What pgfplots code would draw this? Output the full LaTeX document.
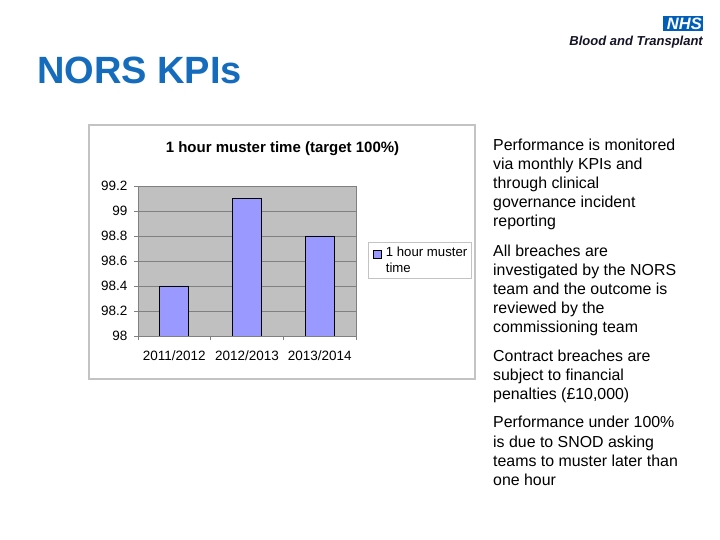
\documentclass[border=0pt]{standalone}
\usepackage{pgfplots}
\pgfplotsset{compat=1.18}
\usepackage{fontspec}
\setmainfont{Liberation Sans}
\definecolor{slideblue}{RGB}{22,108,188}
\definecolor{nhsblue}{RGB}{0,94,184}
\definecolor{plotgray}{RGB}{192,192,192}
\definecolor{gridgray}{RGB}{128,128,128}
\definecolor{barblue}{RGB}{153,153,255}
\definecolor{framegray}{RGB}{195,195,195}
\definecolor{logotext}{RGB}{20,20,40}
\begin{document}
\begin{tikzpicture}
\useasboundingbox (0,0) rectangle (720bp,540bp);
\fill[white] (0,0) rectangle (720bp,540bp);
\begin{scope}[x=1bp,y=-1bp,shift={(0,540bp)}]
\draw[framegray, line width=1.5bp, fill=white] (89,125) rectangle (475,379);
\node[anchor=base west, inner sep=0, font=\fontsize{38bp}{42bp}\selectfont\bfseries, text=slideblue] at (37,83.3) {NORS KPIs};
\fill[nhsblue] (663,16) rectangle (703,31);
\node[anchor=base east, inner sep=0, text=white, font=\fontsize{16.5bp}{16bp}\selectfont\bfseries\itshape] at (702,29.3) {NHS};
\node[anchor=base east, inner sep=0, text=logotext, font=\fontsize{13bp}{13bp}\selectfont\bfseries\itshape] at (703,46) {Blood and Transplant};
\foreach \yy/\tt in {150.7/{Performance is monitored}, 170/{via monthly KPIs and}, 189/{through clinical}, 207.7/{governance incident}, 226.7/{reporting}, 256.7/{All breaches are}, 275.7/{investigated by the NORS}, 295/{team and the outcome is}, 314/{reviewed by the}, 333/{commissioning team}, 361.7/{Contract breaches are}, 380.7/{subject to financial}, 400/{penalties (£10,000)}, 427.7/{Performance under 100\%}, 447.3/{is due to SNOD asking}, 466.7/{teams to muster later than}, 485.7/{one hour}}
  \node[anchor=base west, inner sep=0, font=\fontsize{15.9bp}{18bp}\selectfont] at (493,\yy) {\tt};
\end{scope}
\begin{axis}[
  at={(138bp,204bp)}, anchor=south west, scale only axis,
  width=218bp, height=150bp,
  xmin=-0.5, xmax=2.5, ymin=98, ymax=99.2,
  xtick={-0.5,0.5,1.5,2.5}, xticklabels={},
  extra x ticks={0,1,2},
  extra x tick labels={2011/2012,2012/2013,2013/2014},
  extra x tick style={major tick length=0pt, grid=none,
    xticklabel style={yshift=-11bp}},
  ytick={98,98.2,98.4,98.6,98.8,99,99.2},
  yticklabels={98,98.2,98.4,98.6,98.8,99,99.2},
  xtick pos=bottom, ytick pos=left,
  tick align=outside, major tick length=4bp,
  ymajorgrids, grid style={gridgray, line width=0.8bp},
  axis line style={gridgray, line width=0.8bp},
  tick style={gridgray, line width=0.8bp},
  axis background/.style={fill=plotgray},
  ticklabel style={font=\fontsize{13.5bp}{15bp}\selectfont},
  yticklabel style={xshift=-3bp},
  /pgf/number format/assume math mode=true,
  title={\textbf{1 hour muster time (target 100\%)}},
  title style={at={(0.663,1.184)}, anchor=base, inner sep=0pt, font=\fontsize{15bp}{18bp}\selectfont},
  ybar, bar width=29bp,
  legend style={at={(1.055,0.503)}, anchor=west, draw=framegray, line width=0.8bp, fill=white,
    font=\fontsize{13.2bp}{16.3bp}\selectfont, inner xsep=2.5bp, inner ysep=2.5bp,
    nodes={align=left}},
  legend cell align=left,
  legend image code/.code={\path[draw=none,fill=none] (0bp,6bp) -- (13bp,6bp);\draw[#1, line width=0.6bp] (2bp,2bp) rectangle (10.5bp,10bp);},
]
\addplot[fill=barblue, draw=black, line width=0.8bp] coordinates {(0,98.4) (1,99.1) (2,98.8)};
\addlegendentry{1 hour muster\\time}
\end{axis}
\end{tikzpicture}
\end{document}
